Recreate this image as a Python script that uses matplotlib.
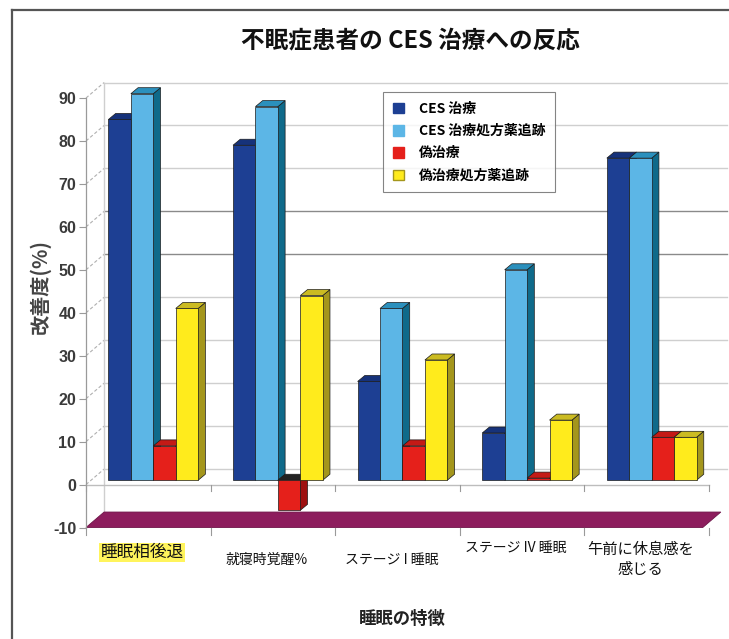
import matplotlib
matplotlib.use("Agg")
import matplotlib.pyplot as plt
from matplotlib.patches import Polygon, Patch
from matplotlib.lines import Line2D
import numpy as np

plt.rcParams['font.family'] = ['Noto Sans CJK JP', 'DejaVu Sans']

# data
categories = ["睡眠相後退", "就寝時覚醒%", "ステージ I 睡眠", "ステージ IV 睡眠", "午前に休息感を\n感じる"]
series_names = ["CES 治療", "CES 治療処方薬追跡", "偽治療", "偽治療処方薬追跡"]
ces = [84, 78, 23, 11, 75]
ces_follow = [90, 87, 40, 49, 75]
sham = [8, -7, 8, 0.5, 10]
sham_follow = [40, 43, 28, 14, 10]
yticks = list(range(-10, 100, 10))

series = [ces, ces_follow, sham, sham_follow]
# front, side, top colours per series
colors = [("#1d3f93", "#10276a", "#16327a"),
          ("#5cb6e6", "#0f6a8a", "#2b90bd"),
          ("#e5201b", "#9e1010", "#c41a16"),
          ("#ffeb1c", "#a4961c", "#cbbb22")]

fig = plt.figure(figsize=(7.29, 6.39), dpi=100)
ax = fig.add_axes([86 / 729, (639 - 527.5) / 639, 623 / 729, 429.5 / 639])
ax.set_xlim(-0.5, 4.5)
ax.set_ylim(-10, 90)

dx, dy = 0.145, 3.6      # wall depth
bdx, bdy = 0.058, 1.4    # bar depth
yb = 1.0                 # bars stand at mid depth
w = 0.18
grid_col = "#cfcfcf"

# back wall grid
for v in yticks:
    col = "#8a8a8a" if v in (50, 60) else grid_col
    if v == -10:
        continue
    ax.plot([-0.5 + dx, 4.5 + dx], [v + dy, v + dy], color=col, lw=1.0,
            clip_on=False, zorder=1)
    ax.plot([-0.5, -0.5 + dx], [v, v + dy], color="#b0b0b0", lw=0.8,
            ls=(0, (3, 2)), clip_on=False, zorder=1)
ax.plot([-0.5 + dx, -0.5 + dx], [-10 + dy, 90 + dy], color=grid_col, lw=1.0,
        clip_on=False, zorder=1)

# floor
floor = Polygon([(-0.5, -10), (4.45, -10), (4.45 + dx, -10 + dy), (-0.5 + dx, -10 + dy)],
                closed=True, facecolor="#8d1d5d", edgecolor="#6e1448", lw=0.6,
                clip_on=False, zorder=2)
ax.add_patch(floor)

# zero line and category ticks
ax.plot([-0.5, 4.5], [0, 0], color="#bdbdbd", lw=1.0, clip_on=False, zorder=2)
for b in np.arange(-0.5, 4.6, 1.0):
    ax.plot([b, b], [0, -1.5], color="#9a9a9a", lw=0.8, clip_on=False, zorder=2)
    ax.plot([b, b], [-10, -11.8], color="#9a9a9a", lw=0.8, clip_on=False, zorder=2)

# bars
for i in range(len(categories)):
    for j, vals in enumerate(series):
        v = vals[i]
        x0 = i + 0.04 + (j - 2) * w
        top = max(v, 0) + yb
        bot = min(v, 0) + yb
        front_c, side_c, top_c = colors[j]
        if v < 0:
            top_c = "#222222"
        z = 3 + i * 10 + j
        side = Polygon([(x0 + w, bot), (x0 + w, top), (x0 + w + bdx, top + bdy),
                        (x0 + w + bdx, bot + bdy)], closed=True, facecolor=side_c,
                       edgecolor="#1a1a1a", lw=0.5, zorder=z, clip_on=False)
        cap = Polygon([(x0, top), (x0 + w, top), (x0 + w + bdx, top + bdy),
                       (x0 + bdx, top + bdy)], closed=True, facecolor=top_c,
                      edgecolor="#1a1a1a", lw=0.5, zorder=z, clip_on=False)
        ax.add_patch(side)
        ax.add_patch(cap)
        ax.bar(x0, v, width=w, bottom=yb, align="edge", color=front_c,
               edgecolor="#1a1a1a", lw=0.5, zorder=z + 0.5, clip_on=False)

# axes styling
for s in ["top", "right", "bottom"]:
    ax.spines[s].set_visible(False)
ax.spines["left"].set_color("#9a9a9a")
ax.spines["left"].set_linewidth(0.9)
ax.set_xticks([])
ax.set_yticks(yticks)
ax.set_yticklabels([str(t) for t in yticks], fontsize=11.5, fontweight="bold",
                   color="#3a3a3a", family=["Liberation Sans", "DejaVu Sans"])
ax.tick_params(axis="y", length=5, color="#9a9a9a", pad=2)
ax.set_facecolor("none")

# category labels
label_y = [-15.8, -17.6, -17.6, -14.8, -17.4]
label_size = [12, 10, 10, 10, 11]
for i, name in enumerate(categories):
    if i == 0:
        ax.text(i - 0.05, label_y[i], name, ha="center", va="center",
                fontsize=label_size[i], color="#111111", clip_on=False,
                bbox=dict(facecolor="#fff45c", edgecolor="none", pad=1.0))
    else:
        ax.text(i - 0.05, label_y[i], name, ha="center", va="center",
                fontsize=label_size[i], color="#111111", linespacing=1.2,
                clip_on=False)

fig.text(40 / 729, 1 - 287 / 639, "改善度(%)", rotation=90, ha="center", va="center",
         fontsize=14.5, fontweight="bold", color="#444444")
fig.text(402 / 729, 1 - 619 / 639, "睡眠の特徴", ha="center", va="center",
         fontsize=12.5, fontweight="bold", color="#222222")
fig.text(410 / 729, 1 - 40 / 639, "不眠症患者の CES 治療への反応", ha="center",
         va="center", fontsize=17, fontweight="bold", color="#111111")

# legend
handles = [Patch(facecolor=colors[k][0], edgecolor=colors[k][1] if k == 3 else colors[k][0])
           for k in range(4)]
leg = fig.legend(handles, series_names, loc="upper left",
                 bbox_to_anchor=(383 / 729, 1 - 92 / 639),
                 prop={"weight": "bold", "size": 10}, frameon=True, fancybox=False,
                 edgecolor="#666666", handlelength=0.8, handleheight=0.8,
                 labelspacing=0.6, borderpad=0.7, handletextpad=1.1,
                 borderaxespad=0)
leg.get_frame().set_linewidth(0.8)

# outer frame
fig.add_artist(Line2D([12 / 729, 12 / 729], [0, 1 - 10 / 639], color="#555555", lw=1.6))
fig.add_artist(Line2D([12 / 729, 1], [1 - 10 / 639, 1 - 10 / 639], color="#555555", lw=1.6))

fig.savefig("out.png", dpi=100)
